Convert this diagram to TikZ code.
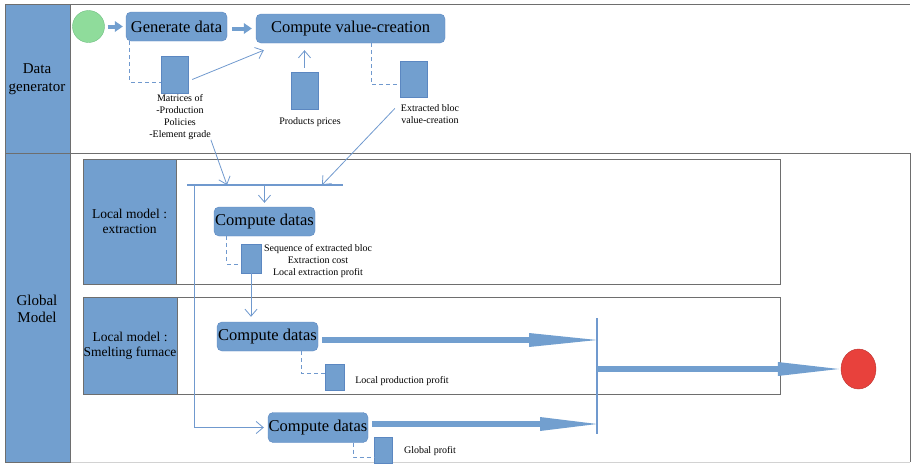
\documentclass[tikz,border=0pt]{standalone}
\usepackage{fontspec}
\setmainfont{Liberation Serif}
\usetikzlibrary{arrows.meta,positioning}
\usetikzlibrary{shapes.geometric,shapes.misc}
\definecolor{boxblue}{HTML}{729FCF}
\definecolor{boxline}{HTML}{5B87C1}
\definecolor{flowblue}{HTML}{7099CE}
\definecolor{startgreen}{HTML}{8FDC9B}
\definecolor{startline}{HTML}{6FBF82}
\definecolor{endred}{HTML}{E8413C}
\definecolor{framegray}{HTML}{6E6E6E}

\begin{document}
\begin{tikzpicture}
		[x=1pt,y=-1pt,
		task node/.style={draw=boxline,fill=boxblue,rounded corners=5pt,minimum width=101pt,minimum height=29pt,inner sep=0pt,font=\fontsize{16.5}{18}\selectfont},
		doc node/.style={chamfered rectangle,chamfered rectangle corners=south east,chamfered rectangle xsep=4pt,chamfered rectangle ysep=4pt,draw=boxline,fill=boxblue,inner sep=0pt},
		note/.style={align=center,inner sep=0pt,font=\fontsize{10}{12}\selectfont},
		lane title/.style={align=center,inner sep=0pt,font=\fontsize{15}{17.5}\selectfont},
		local title/.style={align=center,inner sep=0pt,font=\fontsize{13.5}{15.5}\selectfont},
		flow/.style={draw=flowblue,line width=0.8pt,-{Straight Barb[length=7pt,width=12pt]}},
		dataline/.style={draw=flowblue,line width=0.8pt,dash pattern=on 4pt off 3pt},
		bar/.style={draw=flowblue,line width=1.2pt},
		big arrow/.style={draw=boxblue,line width=6pt,-{Triangle[length=#1,width=14pt,line width=0pt]}},
		big arrow/.default=62pt,
		small arrow/.style={draw=boxblue,line width=4pt,-{Triangle[length=8pt,width=11pt,line width=0pt]}}]
		\useasboundingbox (0,0) rectangle (911,464);
		
		% lanes
		\draw[framegray] (5,4) -- (910,4);
		\draw[framegray] (5,153) -- (910,153) -- (910,462);
		\draw[gray!35] (70,462) -- (910,462);
		\draw[draw=framegray,fill=boxblue] (5,4) rectangle (70,153);
		\draw[draw=framegray,fill=boxblue] (5,153) rectangle (70,462);
		\node[lane title] (dg) at (37,79) {Data\\generator};
		\node[lane title] (gm) at (37,309) {Global\\Model};
		
		% local models
		\draw[framegray] (83,159) rectangle (780,284);
		\draw[draw=framegray,fill=boxblue] (83,159) rectangle (176,284);
		\node[local title] (lmx) at (129.5,221.5) {Local model :\\extraction};
		\draw[framegray] (83,297) rectangle (780,394);
		\draw[draw=framegray,fill=boxblue] (83,297) rectangle (177,394);
		\node[local title] (lms) at (130,346) {Local model :\\Smelting furnace};
		
		% data generator
		\node[circle,draw=startline,fill=startgreen,minimum size=32pt] (start) at (88.5,26.5) {};
		\node[task node] (gen) at (176.5,26.5) {Generate data};
		\node[task node,minimum width=189pt] (cvc) at (350.5,28.5) {Compute value-creation};
		\node[doc node,minimum width=27pt,minimum height=37pt] (docmat) at (174.5,74.5) {};
		\node[note] (labmat) at (180,117) {Matrices of\\-Production\\Policies\\-Element grade};
		\node[doc node,minimum width=27pt,minimum height=37pt] (docprice) at (304.5,90.5) {};
		\node[note] (labprice) at (310,122) {Products prices};
		\node[doc node,minimum width=27pt,minimum height=36pt] (docext) at (413.5,79) {};
		\node[note] (labext) at (430,114.5) {Extracted bloc\\value-creation};
		
		% global model
		\coordinate (syncTl) at (187,185);
		\coordinate (syncTr) at (343,185);
		\coordinate (inmat) at (227,185);
		\coordinate (inext) at (322,185);
		\coordinate (split) at (194,185);
		\node[task node] (cdx) at (264.5,221.5) {Compute datas};
		\node[doc node,minimum width=20pt,minimum height=29pt] (docseq) at (251,258.5) {};
		\node[note] (labseq) at (318,261) {Sequence of extracted bloc\\Extraction cost\\Local extraction profit};
		\node[task node] (cds) at (267.5,336.5) {Compute datas};
		\node[doc node,minimum width=19pt,minimum height=26pt] (docloc) at (334.5,377) {};
		\node[note] (labloc) at (402,381) {Local production profit};
		\node[task node,minimum width=100pt,minimum height=30pt] (cdg) at (318,427.5) {Compute datas};
		\node[doc node,minimum width=18pt,minimum height=26pt] (docglob) at (383,450) {};
		\node[note] (labglob) at (430,451) {Global profit};
		\coordinate (joinT) at (597,318);
		\coordinate (joinB) at (597,434);
		\node[ellipse,draw=endred!80!black,fill=endred,minimum width=35pt,minimum height=40pt] (stop) at (858.5,369) {};
		
		\draw[small arrow,shorten <=3pt,shorten >=3pt] (start) -- (gen);
		\draw[small arrow,shorten <=5pt,shorten >=4pt] ([yshift=-2pt]gen.east) -- (cvc.west);
		\draw[dataline] ([xshift=4pt]gen.south west) |- ([yshift=-7.5pt]docmat.west);
		\draw[flow] ([xshift=4pt,yshift=-5pt]docmat.east) -- ([xshift=8pt,yshift=-7pt]cvc.south west);
		\draw[flow,shorten <=4pt,shorten >=7pt] (docprice.north) -- (docprice.north |- cvc.south);
		\draw[dataline] ([xshift=20.5pt]cvc.south) |- ([yshift=-5pt]docext.west);
		\draw[flow] (labmat.south east) -- (inmat);
		\draw[flow] ([xshift=-6pt,yshift=6pt]labext.west) -- (inext);
		
		\draw[bar] (syncTl) -- (syncTr);
		\draw[flow,shorten >=4pt] (cdx.north |- syncTl) -- (cdx.north);
		\draw[flow,shorten >=4pt] (split) |- (cdg.west);
		\draw[dataline] ([xshift=13pt]cdx.south west) |- ([yshift=-5.5pt]docseq.west);
		\draw[flow,shorten >=5pt] (docseq.south) -- (docseq.south |- cds.north);
		\draw[big arrow=68pt,shorten <=4pt] ([yshift=-3.5pt]cds.east) -- ([yshift=-3.5pt]cds.east -| joinT);
		\draw[dataline] ([xshift=33.5pt]cds.south) |- ([yshift=4pt]docloc.west);
		\draw[big arrow=57pt,shorten <=4pt] ([yshift=3.5pt]cdg.east) -- ([yshift=3.5pt]cdg.east -| joinT);
		\draw[dataline] ([xshift=35pt]cdg.south) |- ([yshift=-7pt]docglob.west);
		\draw[bar] (joinT) -- (joinB);
		\draw[big arrow=61pt,shorten >=2pt] (joinT |- stop) -- (stop);
		\end{tikzpicture}
\end{document}
